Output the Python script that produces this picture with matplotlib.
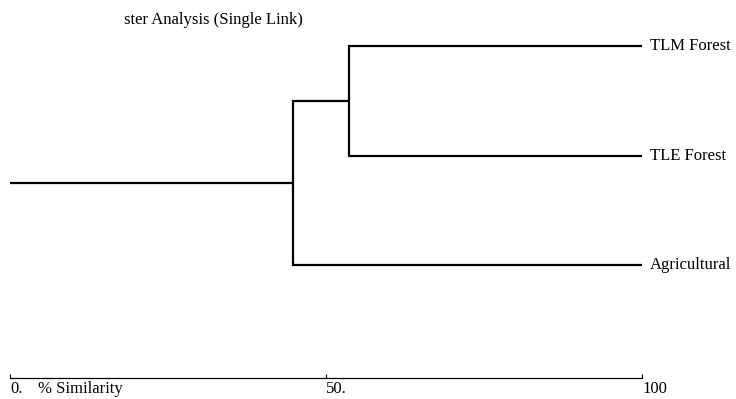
import matplotlib
matplotlib.use("Agg")
import matplotlib.pyplot as plt

# Data
leaves = ["TLM Forest", "TLE Forest", "Agricultural"]
merge_sim = [53.6, 44.7]          # similarity of merge: (TLM,TLE) then (+Agricultural)
tick_vals = [0, 50, 100]
tick_labels = ["0.", "50.", "100"]
title = "ster Analysis (Single Link)"
xlabel = "% Similarity"

plt.rcParams['font.family'] = ['Liberation Serif', 'DejaVu Serif']

W, H = 736, 399
fig = plt.figure(figsize=(W / 100, H / 100), dpi=100)
ax = fig.add_axes([10 / W, (H - 378) / H, 632 / W, 378 / H])

lw = 1.6
leaf_y = list(range(len(leaves)))
leaf_x = 100
# first merge: leaves 0 and 1
s1 = merge_sim[0]
ax.plot([leaf_x, s1, s1, leaf_x], [leaf_y[0], leaf_y[0], leaf_y[1], leaf_y[1]],
        color="black", lw=lw, solid_capstyle="butt", solid_joinstyle="miter")
c1 = (leaf_y[0] + leaf_y[1]) / 2
# second merge: cluster1 and leaf 2
s2 = merge_sim[1]
ax.plot([s1, s2, s2, leaf_x], [c1, c1, leaf_y[2], leaf_y[2]],
        color="black", lw=lw, solid_capstyle="butt", solid_joinstyle="miter")
c2 = (c1 + leaf_y[2]) / 2
ax.plot([s2, 0], [c2, c2], color="black", lw=lw, solid_capstyle="butt")

for y, name in zip(leaf_y, leaves):
    ax.text(leaf_x + 8 * 100 / 632, y, name, ha="left", va="center", fontsize=12)

ax.set_xlim(0, 100)
ax.set_ylim(3.03, -0.42)
for s in ["top", "right", "left"]:
    ax.spines[s].set_visible(False)
ax.spines["bottom"].set_linewidth(0.9)
ax.set_yticks([])
ax.set_xticks(tick_vals)
ax.set_xticklabels(tick_labels, fontsize=12)
ax.tick_params(axis="x", direction="in", length=3, pad=2.5, width=0.8)
for lab in ax.get_xticklabels():
    lab.set_horizontalalignment("left")
fig.text(38 / W, 1 - 389 / H, xlabel, ha="left", va="center", fontsize=12)
fig.text(124 / W, 1 - 20 / H, title, ha="left", va="center", fontsize=12)

fig.savefig("out.png", dpi=100)
